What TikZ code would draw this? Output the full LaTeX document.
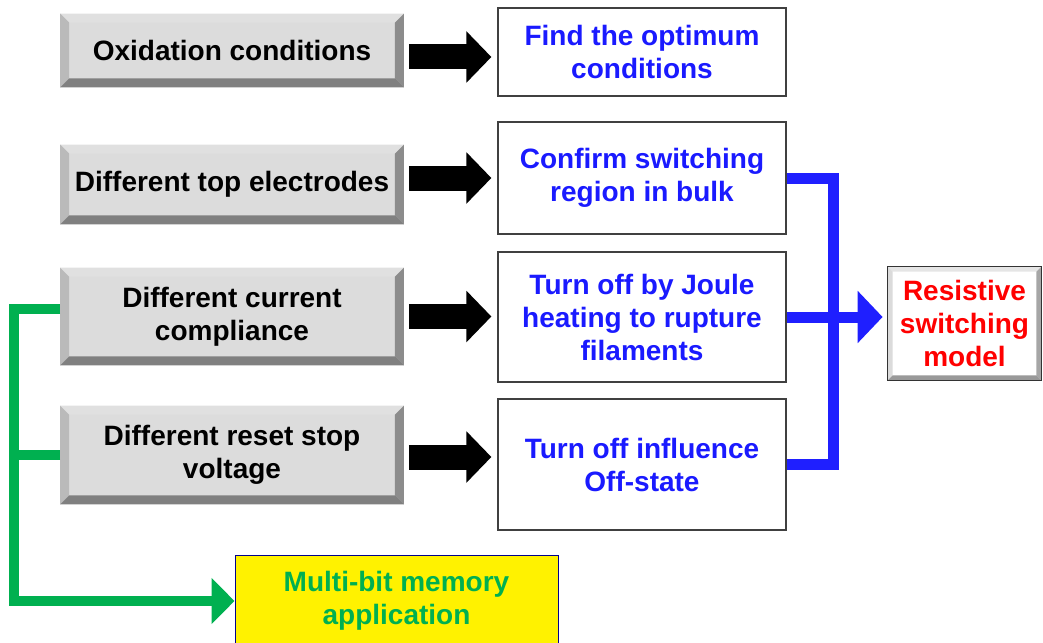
\documentclass[tikz,border=0pt]{standalone}
\usepackage{fontspec}
\setmainfont{Liberation Sans}
\usepackage{tikz}
\usetikzlibrary{calc}
\usetikzlibrary{arrows.meta}

\definecolor{txtblue}{HTML}{1A1AFF}
\definecolor{txtred}{HTML}{FF0000}
\definecolor{busblue}{HTML}{1F1FFF}
\definecolor{busgreen}{HTML}{00B050}
\definecolor{face}{HTML}{DCDCDC}

% bevel of a button: node, top, left, right, bottom colour, width
\newcommand{\bevel}[6]{%
  \fill[#2] (#1.north west) -- (#1.north east) -- ([shift={(-#6,-#6)}]#1.north east) -- ([shift={(#6,-#6)}]#1.north west) -- cycle;
  \fill[#3] (#1.north west) -- (#1.south west) -- ([shift={(#6,#6)}]#1.south west) -- ([shift={(#6,-#6)}]#1.north west) -- cycle;
  \fill[#4] (#1.north east) -- (#1.south east) -- ([shift={(-#6,#6)}]#1.south east) -- ([shift={(-#6,-#6)}]#1.north east) -- cycle;
  \fill[#5] (#1.south west) -- (#1.south east) -- ([shift={(-#6,#6)}]#1.south east) -- ([shift={(#6,#6)}]#1.south west) -- cycle;
}

\begin{document}
\begin{tikzpicture}[x=0.5pt, y=-0.5pt,
    every node/.style={inner sep=0pt, align=center, font=\bfseries\fontsize{14pt}{16.5pt}\selectfont},
    cause/.style={fill=face, minimum width=171.5pt},
    result/.style={draw=black!75, line width=0.6pt, fill=white, text=txtblue, minimum width=144pt},
    blkarrow/.style={line width=12.5pt, -{Triangle[length=12.5pt, width=25pt]}, shorten <=2.5pt, shorten >=3pt},
    blubus/.style={busblue, line width=5.5pt, line join=miter},
    grnbus/.style={busgreen, line width=5pt, line join=miter}]
    \def\lx{232}; % causes x coordinate
    \def\rx{642}; % results x coordinate
    \def\bw{4.5pt}; % bevel width

    \useasboundingbox (0,0) rectangle (1043,642);

    % causes %%%%%%%%%%%%%%%%%%%%%%%%%%%%%%%%%%%%%%%%%%%%%%%%%%%%%%%%%%%%%%%%%%%%%%%%%
    \node[cause, minimum height=36.5pt] (ox) at (\lx, 50.5) {Oxidation conditions};
    \node[cause, minimum height=39.5pt] (top) at (\lx, 184.5) {Different top electrodes};
    \node[cause, minimum height=48.5pt] (cur) at (\lx, 316.5) {Different current\\compliance};
    \node[cause, minimum height=49pt] (rst) at (\lx, 455) {Different reset stop\\voltage};
    \foreach \n in {ox, top, cur, rst}{
      \bevel{\n}{black!12}{black!27}{black!45}{black!50}{\bw}
    }

    % results %%%%%%%%%%%%%%%%%%%%%%%%%%%%%%%%%%%%%%%%%%%%%%%%%%%%%%%%%%%%%%%%%%%%%%%%
    \node[result, minimum height=44pt] (opt) at (\rx, 52) {Find the optimum\\conditions};
    \node[result, minimum height=56pt] (bulk) at (\rx, 178) {Confirm switching\\region in bulk};
    \node[result, minimum height=65pt] (joule) at (\rx, 317) {Turn off by Joule\\heating to rupture\\filaments};
    \node[result, minimum height=65.5pt] (off) at (\rx, 464.5) {Turn off influence\\Off-state};

    % model and application %%%%%%%%%%%%%%%%%%%%%%%%%%%%%%%%%%%%%%%%%%%%%%%%%%%%%%%%%%
    \node[fill=white, text=txtred, minimum width=76.5pt, minimum height=56.5pt] (model) at (964.5, 323.5) {Resistive\\switching\\model};
    \bevel{model}{black!10}{black!14}{black!35}{black!40}{2.5pt}
    \draw[black!80, line width=0.6pt] (model.north west) rectangle (model.south east);
    \node[draw=blue!55!black, line width=0.5pt, fill=yellow, text=busgreen, minimum width=161.5pt, minimum height=46pt] (multi) at (396.5, 601) {Multi-bit memory\\application};

    % arrows %%%%%%%%%%%%%%%%%%%%%%%%%%%%%%%%%%%%%%%%%%%%%%%%%%%%%%%%%%%%%%%%%%%%%%%%%
    \draw[blkarrow] ([yshift=-3.25pt]ox.east) -- ([yshift=-3.25pt]ox.east -| opt.west);
    \draw[blkarrow] ([yshift=3.25pt]top.east) -- ([yshift=3.25pt]top.east -| bulk.west);
    \draw[blkarrow] (cur.east) -- (cur.east -| joule.west);
    \draw[blkarrow] ([yshift=-1pt]rst.east) -- ([yshift=-1pt]rst.east -| off.west);

    % buses %%%%%%%%%%%%%%%%%%%%%%%%%%%%%%%%%%%%%%%%%%%%%%%%%%%%%%%%%%%%%%%%%%%%%%%%%%
    \coordinate (bbus) at (833, 0);
    \coordinate (gbus) at (14, 0);
    \draw[blubus] (bulk.east) -| (bbus |- off.east) -- (off.east);
    \draw[blubus, -{Triangle[length=12.5pt, width=25.5pt]}, shorten >=2.5pt] (joule.east) -- (joule.east -| model.west);
    \draw[grnbus, -{Triangle[length=11.5pt, width=22.5pt]}] ([yshift=4pt]cur.west) -| (gbus |- multi.west) -- (multi.west);
    \draw[grnbus] (rst.west) -- (rst.west -| gbus);

\end{tikzpicture}
\end{document}
